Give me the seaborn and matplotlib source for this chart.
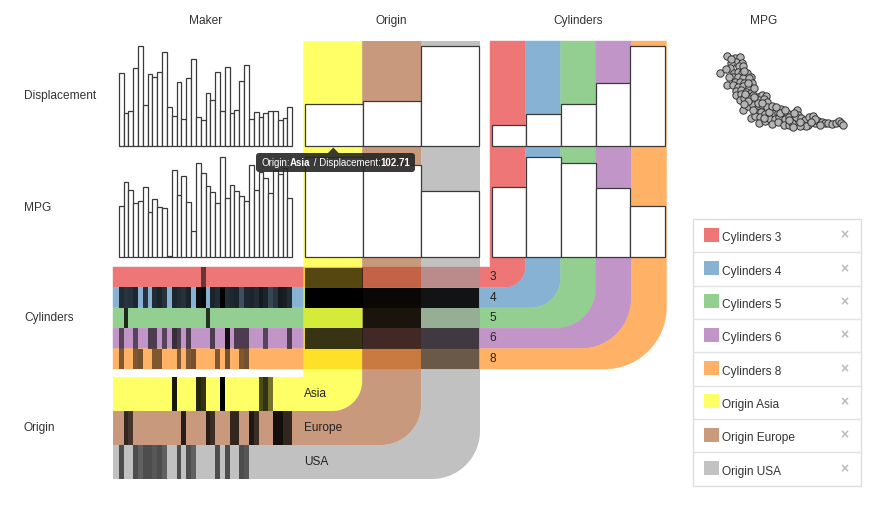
import numpy as np
import pandas as pd
import matplotlib
matplotlib.use("Agg")
import matplotlib.pyplot as plt
import seaborn as sns
from matplotlib.patches import Polygon, Rectangle, FancyBboxPatch
from matplotlib.colors import LinearSegmentedColormap, to_rgb

sns.set_theme(style="white")
plt.rcParams["font.family"] = ["Liberation Sans", "DejaVu Sans"]

# ---------------- data ----------------
makers = ["amc", "audi", "bmw", "buick", "cadillac", "capri", "chevroelt", "chevrolet",
          "chevy", "chrysler", "citroen", "datsun", "dodge", "fiat", "ford", "hi", "honda",
          "mazda", "mercedes", "mercedes-benz", "mercury", "nissan", "oldsmobile", "opel",
          "peugeot", "plymouth", "pontiac", "renault", "saab", "subaru", "toyota", "toyouta",
          "triumph", "vokswagen", "volkswagen", "volvo"]
maker_displacement = [254, 114, 124, 273, 350, 142, 251, 240, 259, 330, 135, 106, 224, 93,
                      237, 303, 100, 91, 184, 160, 259, 122, 278, 114, 126, 229, 284, 95,
                      120, 103, 114, 121, 124, 91, 97, 135]
maker_mpg = [18.4, 26.8, 23.9, 19.4, 19.9, 25.0, 16.2, 20.6, 18.0, 17.4, 0.4, 31.1, 22.2,
             28.9, 19.8, 9.2, 33.7, 30.0, 25.4, 23.2, 19.3, 36.0, 21.2, 25.8, 23.8, 21.8,
             20.0, 32.9, 23.9, 30.5, 28.3, 23.0, 31.2, 29.8, 31.8, 21.2]

origins = ["Asia", "Europe", "USA"]
origin_displacement = [102.71, 109.63, 245.90]
origin_mpg = [30.45, 27.89, 20.08]

cylinders = [3, 4, 5, 6, 8]
cyl_displacement = [72.5, 109.8, 145.0, 218.1, 345.0]
cyl_mpg = [20.55, 29.29, 27.37, 19.99, 14.96]

# shading of maker marks inside each cylinder / origin row (0 = no car)
marks_cyl3 = [0, 0, 0, 0, 0, 0, 0, 0, 0, 0, 0, 0, 0, 0, 0, 0, 0, .55, 0, 0,
              0, 0, 0, 0, 0, 0, 0, 0, 0, 0, 0, 0, 0, 0, 0, 0]
marks_cyl4 = [.75, .7, .72, .78, 0, .7, 0, .75, .8, .72, 0, .78, .75, .72, .8, 0, .92, .95, 0, .8,
              .75, 1.0, .75, .78, .8, .55, .78, .8, .75, .85, .8, .6, .7, .85, .82, .75]
marks_cyl5 = [0, .8, 0, 0, 0, 0, 0, 0, 0, 0, 0, 0, 0, 0, 0, 0, 0, 0, .75, 0,
              0, 0, 0, 0, 0, 0, 0, 0, 0, 0, 0, 0, 0, 0, 0, 0]
marks_cyl6 = [.55, 0, 0, .55, 0, 0, .6, .6, 0, .55, 0, .7, .6, 0, .6, 0, 0, 0, 0, .6,
              0, 0, .9, 0, .6, .6, .6, 0, 0, 0, .55, 0, 0, 0, 0, .6]
marks_cyl8 = [.5, 0, 0, .5, .55, 0, 0, .5, .5, 0, 0, 0, .5, 0, .5, .55, 0, 0, 0, 0,
              .5, 0, .55, 0, 0, .5, .55, 0, 0, 0, 0, 0, 0, 0, 0, 0]
marks_asia = [0, 0, 0, 0, 0, 0, 0, 0, 0, 0, 0, .9, 0, 0, 0, 0, .85, .8, 0, 0,
              0, 1.0, 0, 0, 0, 0, 0, 0, 0, .7, .8, .55, 0, 0, 0, 0]
marks_europe = [0, .75, .65, 0, 0, 0, 0, 0, 0, 0, 0, 0, 0, .8, 0, 0, 0, 0, .8, .7,
                0, 0, 0, .75, .75, 0, 0, .85, .7, 0, 0, 0, .9, .9, .75, .75]
marks_usa = [.6, 0, 0, .6, .5, .6, .6, .55, .6, .5, 0, 0, .6, 0, .6, .5, 0, 0, 0, 0,
             .6, 0, .6, 0, 0, .6, .55, 0, 0, 0, 0, 0, 0, 0, 0, 0]
# shading of origin x cylinder cells (rows: cylinders, cols: origins)
cell_shade = [[.65, 0, 0],
              [1.0, .93, .88],
              [0, .84, 0],
              [.76, .63, .62],
              [0, 0, .45]]

scatter_displacement = [90, 113, 128, 118, 136, 103, 126, 140, 98, 68, 110, 123, 136, 150, 163,
                        108, 123, 138, 156, 166, 113, 128, 143, 88, 108, 123, 138, 156, 118, 133,
                        148, 163, 118, 133, 150, 168, 183, 196, 210, 128, 143, 158, 174, 188, 203,
                        213, 138, 153, 168, 183, 198, 213, 228, 240, 254, 263, 178, 193, 163, 176,
                        190, 206, 220, 233, 246, 260, 274, 188, 206, 222, 236, 250, 266, 278, 288,
                        303, 308, 228, 246, 263, 278, 290, 300, 316, 328, 340, 354, 323, 338, 358,
                        368, 380, 390, 400, 410, 423, 433, 440, 446, 333, 313, 293, 373, 358, 278,
                        218, 203, 168, 153, 143, 183, 198, 173, 103, 143, 153, 173, 146, 226, 240,
                        253, 268, 296, 313, 346, 96, 86]
scatter_mpg = [46.6, 45.2, 45.7, 43.4, 42.9, 42.5, 41.1, 41.1, 39.9, 37.2, 37.6, 38.1, 37.6, 37.2,
               35.5, 35.1, 35.5, 34.6, 34.6, 32.3, 32.8, 32.8, 32.3, 31.1, 31.1, 30.2, 30.5, 29.8,
               28.1, 28.4, 27.5, 27.0, 25.8, 26.3, 25.2, 25.8, 24.9, 25.8, 25.2, 23.1, 24.0, 23.5,
               22.8, 23.1, 23.5, 22.2, 17.8, 19.9, 20.5, 19.2, 20.5, 19.2, 18.2, 17.8, 18.2, 17.0,
               17.0, 17.0, 13.4, 14.7, 14.0, 15.7, 14.7, 16.1, 16.4, 15.2, 16.1, 10.8, 12.2, 13.2,
               12.9, 13.9, 13.2, 14.3, 12.5, 17.8, 15.2, 10.4, 11.5, 9.9, 9.9, 10.8, 14.0, 13.4,
               12.5, 14.3, 14.7, 9.9, 9.9, 10.8, 12.2, 11.6, 10.8, 11.0, 10.2, 11.1, 11.8, 10.8,
               9.9, 9.4, 9.4, 9.0, 9.9, 12.9, 12.5, 17.0, 13.4, 17.8, 22.4, 21.0, 21.7, 21.7, 24.9,
               44.7, 38.6, 31.9, 29.3, 26.3, 20.0, 19.2, 16.1, 17.8, 16.1, 11.7, 11.7, 35.5, 39.4]

cyl_base = ["#e41a1c", "#377eb8", "#4daf4a", "#984ea3", "#ff7f00"]
origin_base = ["#ffff00", "#a65628", "#999999"]

# ---------------- layout ----------------
W, H = 874, 511
fig = plt.figure(figsize=(W / 100, H / 100), dpi=100)


def add_ax(x0, y0, x1, y1, z=1):
    ax = fig.add_axes([x0 / W, 1 - y1 / H, (x1 - x0) / W, (y1 - y0) / H])
    ax.set_zorder(z)
    ax.set_facecolor("none")
    return ax


def tint(c, a=0.6):
    r = np.array(to_rgb(c))
    return tuple(a * r + (1 - a))


TXT = "#333333"
FS = 8.6

ax_bg = add_ax(0, 0, W, H, z=0)
ax_bg.set_xlim(0, W)
ax_bg.set_ylim(H, 0)
ax_bg.axis("off")

TOP = 41
LEFT = 113
CYL_TOP, CYL_H = 267, 20.4
CYL_X0, CYL_W = 490, 35.3
ORI_TOP, ORI_H = 377, 34
ORI_X0, ORI_W = 303.3, 58.9
cyl_r = [20, 30, 40, 50, 62]
ori_r = [30, 40, 48]


def arc(cx, cy, r, t0, t1, n=30):
    t = np.radians(np.linspace(t0, t1, n))
    return list(zip(cx + r * np.cos(t), cy + r * np.sin(t)))


def l_shape(top_band, bot, col_l, col_r, r, pr):
    pts = [(LEFT, bot)]
    pts += arc(col_r - r, bot - r, r, 90, 0)
    pts += [(col_r, TOP), (col_l, TOP)]
    if pr:
        pts += arc(col_l - pr, top_band - pr, pr, 0, 90)
    else:
        pts += [(col_l, top_band)]
    pts += [(LEFT, top_band)]
    return pts


for k, c in enumerate(cyl_base):
    tb = CYL_TOP + k * CYL_H
    pts = l_shape(tb, tb + CYL_H, CYL_X0 + k * CYL_W, CYL_X0 + (k + 1) * CYL_W,
                  cyl_r[k], cyl_r[k - 1] if k else 0)
    ax_bg.add_patch(Polygon(pts, closed=True, facecolor=tint(c), edgecolor=tint(c),
                            linewidth=0.3, zorder=1))
for k, c in enumerate(origin_base):
    tb = ORI_TOP + k * ORI_H
    pts = l_shape(tb, tb + ORI_H, ORI_X0 + k * ORI_W, ORI_X0 + (k + 1) * ORI_W,
                  ori_r[k], ori_r[k - 1] if k else 0)
    ax_bg.add_patch(Polygon(pts, closed=True, facecolor=c, alpha=0.6, edgecolor="none",
                            zorder=2))

# ---------------- bar charts ----------------
MK_X0, MK_X1 = 118.7, 292.3
OR_X0, OR_X1 = 305, 479.3
CY_X0, CY_X1 = 491.7, 665
DISP_Y = (46, 146)
MPG_Y = (156.7, 256.7)


def bars(x0, x1, yr, cats, vals):
    ax = add_ax(x0, yr[0], x1, yr[1], z=2)
    df = pd.DataFrame({"cat": cats, "val": vals})
    sns.barplot(data=df, x="cat", y="val", order=cats, color="white", saturation=1,
                width=1, edgecolor="#3a3a3a", linewidth=0.9, ax=ax)
    ax.set_xlim(-0.5, len(cats) - 0.5)
    ax.set_ylim(0, max(vals))
    ax.axis("off")
    for p in ax.patches:
        p.set_clip_on(False)
    return ax


bars(MK_X0, MK_X1, DISP_Y, makers, maker_displacement)
bars(MK_X0, MK_X1, MPG_Y, makers, maker_mpg)
bars(OR_X0, OR_X1, DISP_Y, origins, origin_displacement)
bars(OR_X0, OR_X1, MPG_Y, origins, origin_mpg)
bars(CY_X0, CY_X1, DISP_Y, [str(c) for c in cylinders], cyl_displacement)
bars(CY_X0, CY_X1, MPG_Y, [str(c) for c in cylinders], cyl_mpg)

# ---------------- mark matrices ----------------
shade_cmap = LinearSegmentedColormap.from_list("shade", [(0, 0, 0, 0), (0, 0, 0, 1)])


def shade(x0, x1, y0, y1, df):
    ax = add_ax(x0, y0, x1, y1, z=3)
    sns.heatmap(df, mask=(df == 0), cmap=shade_cmap, vmin=0, vmax=1, cbar=False,
                xticklabels=False, yticklabels=False, linewidths=0, ax=ax)
    ax.set_facecolor("none")
    ax.axis("off")
    return ax


df_cyl = pd.DataFrame([marks_cyl3, marks_cyl4, marks_cyl5, marks_cyl6, marks_cyl8],
                      index=cylinders, columns=makers)
df_ori = pd.DataFrame([marks_asia, marks_europe, marks_usa], index=origins, columns=makers)
df_cell = pd.DataFrame(cell_shade, index=cylinders, columns=origins)
shade(MK_X0, MK_X1, CYL_TOP, CYL_TOP + 5 * CYL_H, df_cyl)
shade(MK_X0, MK_X1, ORI_TOP, ORI_TOP + 3 * ORI_H, df_ori)
shade(OR_X0, OR_X1, CYL_TOP + 0.5, CYL_TOP + 5 * CYL_H, df_cell)

# ---------------- scatter ----------------
ax_sc = add_ax(720, 55.7, 846.3, 126.7, z=2)
sns.scatterplot(x=scatter_displacement, y=scatter_mpg, s=28, color="#b4b4b4",
                edgecolor="#333333", linewidth=0.7, legend=False, clip_on=False, ax=ax_sc)
ax_sc.set_xlim(68, 455)
ax_sc.set_ylim(9, 46.6)
ax_sc.axis("off")

# ---------------- texts ----------------
ax_ov = add_ax(0, 0, W, H, z=10)
ax_ov.set_xlim(0, W)
ax_ov.set_ylim(H, 0)
ax_ov.axis("off")

for label, x in [("Maker", 205.5), ("Origin", 391.7), ("Cylinders", 578.3), ("MPG", 764)]:
    ax_ov.text(x, 21, label, ha="center", va="center", fontsize=FS, color=TXT)
for label, y in [("Displacement", 96.5), ("MPG", 208), ("Cylinders", 317.5), ("Origin", 428)]:
    ax_ov.text(24, y, label, ha="left", va="center", fontsize=FS, color=TXT)
for k, c in enumerate(cylinders):
    ax_ov.text(489.5, CYL_TOP + (k + 0.5) * CYL_H, str(c), ha="left", va="center",
               fontsize=FS, color="#222222")
for k, o in enumerate(origins):
    ax_ov.text(303.8, ORI_TOP + (k + 0.5) * ORI_H, o, ha="left", va="center",
               fontsize=FS, color="#222222")

# tooltip
ax_ov.add_patch(FancyBboxPatch((256, 153), 159, 19, boxstyle="round,pad=0,rounding_size=3",
                               facecolor="#262626", edgecolor="none", alpha=0.9))
ax_ov.add_patch(Polygon([(328, 153), (333.3, 147.5), (338.6, 153)], closed=True,
                        facecolor="#262626", edgecolor="none", alpha=0.9))
t = ax_ov.text(261.7, 162.5, "Origin:", color="white", fontsize=7, va="center", ha="left")
prev = t
for s, w in [(origins[0], "bold"), (" / Displacement:", "normal"),
             (f"{origin_displacement[0]:.2f}", "bold")]:
    prev = ax_ov.annotate(s, xy=(1, 0), xycoords=prev, va="bottom", ha="left",
                          color="white", fontsize=7, fontweight=w)

# legend
LG_X0, LG_X1, LG_Y0, ROW = 693.3, 860.7, 219, 33.33
items = [(f"Cylinders {c}", tint(col)) for c, col in zip(cylinders, cyl_base)] + \
        [(f"Origin {o}", tint(col)) for o, col in zip(origins, origin_base)]
ax_bg.add_patch(Rectangle((LG_X0, LG_Y0), LG_X1 - LG_X0, ROW * len(items),
                          facecolor="white", edgecolor="#dddddd", linewidth=1, zorder=5))
for i, (lab, col) in enumerate(items):
    y = LG_Y0 + i * ROW
    if i:
        ax_bg.plot([LG_X0, LG_X1], [y, y], color="#e3e3e3", linewidth=1, zorder=6)
    ax_bg.add_patch(Rectangle((704, y + 8.7), 15, 14, facecolor=col, edgecolor="none", zorder=6))
    ax_bg.text(722.3, y + 19.3, lab, ha="left", va="center", fontsize=FS, color=TXT, zorder=7)
    ax_bg.text(844, y + 16.7, "\u00d7", ha="center", va="center", fontsize=10,
               color="#bbbbbb", fontweight="bold", zorder=7)

fig.savefig("out.png", dpi=100)
